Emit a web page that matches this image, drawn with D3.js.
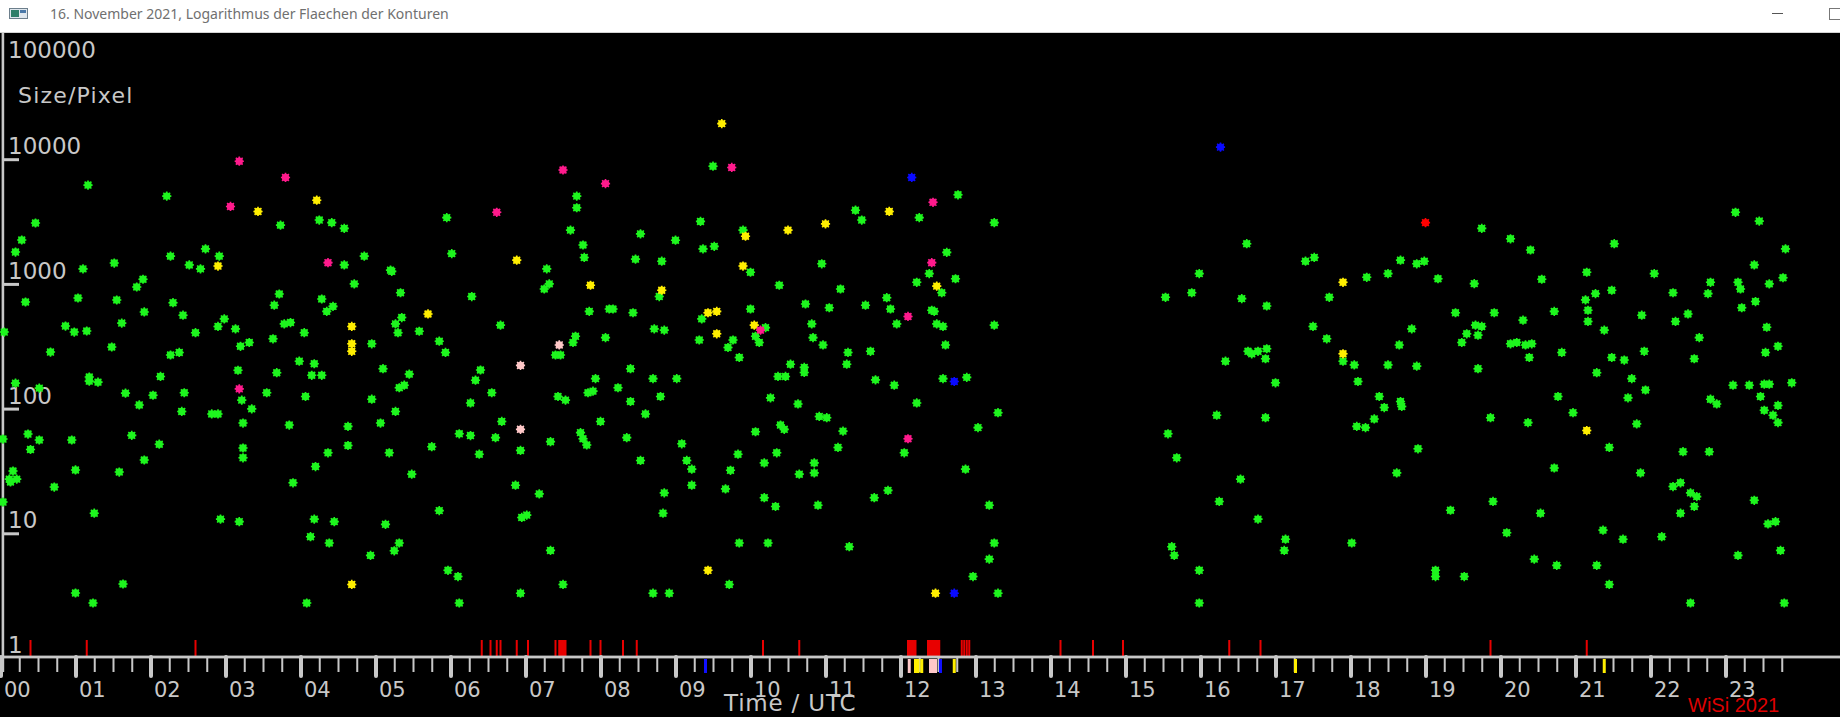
<!DOCTYPE html>
<html>
<head>
<meta charset="utf-8">
<script src="https://cdn.jsdelivr.net/npm/d3@7"></script>
<style>
  html, body { margin: 0; padding: 0; background: #000; overflow: hidden; }
  svg { display: block; }
</style>
</head>
<body>
<script>
// time of detection in minutes after 00:00 UTC, contour area in pixels
var greenPts = [
	[70,6200],[28,3080],[17,2250],[12,1800],[91,1470],[66,1320],[114,1090],[109,944],[20,716],[62,771],[93,743],[115,596],
	[3,411],[52,459],[59,411],[69,419],[97,485],[89,312],[40,284],[71,179],[71,166],[78,163],[12,160],[31,146],[100,133],
	[111,107],[2,57],[22,62.5],[31,56],[24,47],[57,56],[105,61],[115,38.7],[10,31.6],[7,27.2],[8,25.8],[13,27.2],[60,32.2],
	[95,31],[43,23.5],[2,17.8],[75,14.5],[98,3.92],[60,3.32],[74,2.76],
	[133,5060],[224,2960],[255,3250],[265,3100],[275,2790],[136,1670],[164,1910],[175,1670],[151,1420],[160,1320],[275,1420],
	[291,1670],[283,1000],[312,1290],[313,1260],[320,849],[357,3400],[361,1750],[377,792],[461,5060],[461,4080],[456,2700],
	[466,2050],[467,1630],[437,1320],[439,1000],[435,910],[471,602],[487,629],[138,707],[146,561],[156,406],[179,524],[174,456],
	[188,436],[192,316],[199,339],[136,269],[143,282],[128,181],[122,128],[147,134],[145,94.9],[169,90.6],[174,90.6],[127,51.8],
	[190,203],[193,117],[201,99.5],[194,76.6],[194,48.3],[194,40.3],[176,13],[191,12.4],[223,830],[219,675],[227,478],[232,490],
	[218,363],[243,406],[257,757],[266,660],[261,602],[297,331],[239,240],[251,229],[249,185],[257,185],[221,194],[213,134],
	[244,125],[231,73.8],[278,72],[278,50.6],[262,44.2],[252,34.3],[234,25.4],[251,13],[267,12.4],[248,9.39],[263,8.36],[245,2.76],
	[316,478],[321,537],[318,406],[335,417],[351,347],[356,282],[306,209],[327,189],[319,147],[323,154],[297,119],[316,94.9],
	[304,76.6],[311,44.2],[345,49.5],[329,29.8],[308,11.8],[319,8.36],[315,7.24],[296,6.65],[351,15.2],[358,5.05],[366,4.5],
	[367,2.76],[400,467],[384,204],[380,169],[393,134],[376,111],[401,78.9],[367,62.8],[376,60.8],[396,58.5],[383,43.1],[416,46.2],
	[412,24.3],[431,20.7],[417,13.4],[421,14],[440,7.29],[416,3.31],[450,3.89],[444,269],[448,269],[460,380],[458,339],[484,371],
	[476,174],[470,134],[474,138],[446,125],[452,117],[480,78.9],[440,54.3],[464,64.2],[466,57.3],[469,51.1],
	[570,8790],[766,5180],[735,3400],[684,3900],[689,3250],[795,3100],[560,3170],[512,2520],[540,2240],[594,2700],[562,1910],
	[571,2000],[508,1580],[529,1520],[657,1450],[757,1790],[600,1240],[623,975],[672,910],[743,1210],[733,1030],[753,849],
	[764,1100],[527,792],[490,629],[506,587],[523,436],[531,426],[561,524],[559,355],[586,355],[582,309],[591,257],[600,629],
	[612,446],[604,380],[607,339],[644,690],[663,644],[649,478],[650,371],[658,324],[692,675],[709,775],[712,629],[717,478],
	[745,615],[747,602],[749,478],[754,456],[756,324],[795,467],[678,282],[677,227],[696,288],[632,227],[643,214],[643,195],
	[622,181],[628,181],[504,209],[522,174],[541,174],[494,147],[504,114],[528,125],[516,90.6],[700,170],[715,154],[754,174],
	[773,178],[616,122],[638,109],[655,86.5],[661,84.5],[624,73.8],[627,68.2],[604,65.2],[674,66],[733,111],[798,92.7],[782,70.4],
	[723,44.2],[670,48.8],[501,58.5],[545,52.2],[512,38.4],[549,38.4],[553,32.7],[553,24.3],[590,43.1],[584,32],[621,44.2],
	[611,36.7],[651,36.7],[651,30.5],[639,29.8],[580,22.7],[531,21.1],[530,14.5],[611,19.3],[620,16.4],[654,16.8],[699,19.3],
	[710,22.1],[772,32.7],[791,16.8],[591,8.36],[614,8.36],[679,7.81],[795,8.36],[791,6.21],[778,4.5],[583,3.89],[522,3.31],
	[535,3.31],[798,3.31],
	[1185,2790],[997,2100],[959,1210],[932,781],[953,849],[993,762],[1013,665],[1044,1520],[1051,1630],[1063,781],[1093,1130],
	[1110,1210],[1120,1550],[1133,1450],[1139,1520],[1150,1100],[1179,1005],[1195,587],[1164,587],[1050,456],[1061,363],
	[1129,436],[1119,324],[1180,467],[1185,456],[1173,398],[1182,388],[1169,339],[998,288],[1001,275],[1006,288],[1013,302],
	[1012,251],[980,240],[1074,240],[1083,224],[1110,224],[1133,219],[1182,209],[1020,161],[1086,165],[1103,125],[1107,102],
	[1120,114],[1121,104],[1099,82.6],[1085,72],[1092,70.4],[973,88.5],[1012,84.5],[1192,84.5],[934,62.8],[941,40.3],[1134,47.6],
	[1117,30.5],[992,27.2],[975,18],[1006,13],[1160,15.3],[1194,18],[1028,8.97],[1027,7.29],[1081,8.36],[937,7.81],[939,6.65],
	[959,5.05],[959,2.76],[1148,5.05],[1148,4.5],[1171,4.5],
	[1208,2300],[1224,1870],[1291,2100],[1388,3750],[1407,3190],[1428,1910],[1233,1090],[1269,1240],[1323,1210],[1403,1420],
	[1426,1120],[1368,1030],[1390,1030],[1392,910],[1415,1000],[1338,849],[1366,836],[1276,836],[1289,889],[1268,745],[1270,615],
	[1270,500],[1218,512],[1243,602],[1313,561],[1340,500],[1350,574],[1393,644],[1404,722],[1413,449],[1283,426],[1359,371],
	[1208,331],[1213,339],[1220,324],[1225,331],[1223,257],[1249,282],[1289,257],[1299,245],[1315,288],[1355,251],[1412,282],
	[1422,316],[1277,194],[1305,174],[1316,141],[1302,122],[1246,125],[1386,154],[1399,154],[1411,157],[1415,157],[1433,161],
	[1368,119],[1373,109],[1408,125],[1422,106],[1411,97],[1418,88.5],[1422,77.2],[1222,77.2],[1258,92.7],[1309,75.4],[1287,48.8],
	[1346,45.1],[1367,45.1],[1243,33.4],[1312,30.5],[1338,23.7],[1344,25.4],[1352,21.1],[1357,19.7],[1355,16.4],[1344,14.5],
	[1403,18.4],[1232,14.5],[1205,10.1],[1282,10.6],[1298,8.97],[1329,9.39],[1414,11.9],[1420,12.4],[1424,7.29],[1390,6.65],
	[1227,6.21],[1245,5.53],[1277,5.53],[1287,3.89],[1352,2.76],[1427,2.76]
];
var yellowPts = [
	[206,3810],[253,4690],[174,1390],[413,1550],[472,975],[281,456],[281,331],[281,288],[281,3.89],[342,574],
	[577,19300],[711,3810],[660,3030],[630,2700],[596,2410],[594,1390],[749,960],[529,889],[566,587],[573,602],[573,398],
	[603,467],[566,5.05],[748,3.31],[1074,1030],[1074,275],[1269,66.7]
];
var magentaPts = [
	[191,9640],[228,7140],[184,4180],[262,1480],[397,3750],[450,8190],[484,6370],[191,144],
	[585,8590],[746,4510],[745,1480],[608,426],[726,548],[726,57.3]
];
var rosePts = [[447,324],[416,222],[416,68.2]];
var bluePts = [[729,7140],[763,165],[763,3.31],[976,12500]];
var redPts = [[1140,3100]];

// short marks on the time axis (minutes after 00:00 UTC)
var redEvents = [24,69,156,385,392,397,400,413,422,444,447,448,449,450,451,452,472,480,498,509,610,639,
	726,727,728,729,730,731,732,742,743,744,745,746,747,748,749,750,751,769,771,773,775,848,874,898,983,1008,1192,1269];
var yellowMarks = [732,734,737,763,1036,1283];
var roseMarks = [727,744,746,748];
var blueMarks = [564,752];

var hourLabels = ['00','01','02','03','04','05','06','07','08','09','10','11',
	'12','13','14','15','16','17','18','19','20','21','22','23'];
var yTickValues = [1,10,100,1000,10000,100000];
var yTickLabels = ['1','10','100','1000','10000','100000'];

drawChart();

function drawChart() {
	var W = 1840, H = 717;
	var grey = '#c8c8c8';
	var svg = d3.select('body').append('svg').attr('width', W).attr('height', H);

	svg.append('rect').attr('width', W).attr('height', H).attr('fill', '#000');

	//window title bar
	var bar = svg.append('g');
	bar.append('rect').attr('width', W).attr('height', 32).attr('fill', '#fff');
	bar.append('rect').attr('y', 32).attr('width', W).attr('height', 1).attr('fill', '#d4d4d4');
	bar.append('rect').attr('x', 9.5).attr('y', 8.5).attr('width', 18).attr('height', 10)
		.attr('fill', '#dfe7ee').attr('stroke', '#6d7f8c');
	bar.append('rect').attr('x', 11).attr('y', 10).attr('width', 8).attr('height', 7).attr('fill', '#2f7f6a');
	bar.append('rect').attr('x', 20).attr('y', 10).attr('width', 6).attr('height', 3).attr('fill', '#4a78a8');
	bar.append('text').attr('x', 50).attr('y', 19)
		.style('font-family', '"Noto Sans", "Open Sans", sans-serif').style('font-size', '14px')
		.attr('fill', '#707070')
		.text('16. November 2021, Logarithmus der Flaechen der Konturen');
	bar.append('rect').attr('x', 1772).attr('y', 13).attr('width', 11).attr('height', 1).attr('fill', '#555');
	bar.append('rect').attr('x', 1829.5).attr('y', 8.5).attr('width', 12).attr('height', 11)
		.attr('fill', 'none').attr('stroke', '#777');

	//scales: minutes of the day / contour size
	var x = d3.scaleLinear().domain([0, 1440]).range([0.5, 1800.5]);
	var y = d3.scaleLog().domain([1, 100000]).range([658, 34.5]);

	//y axis
	svg.append('rect').attr('x', 1.6).attr('y', 33).attr('width', 2.6).attr('height', 639).attr('fill', grey);
	var yAxis = svg.append('g').attr('transform', 'translate(3,0)')
		.call(d3.axisRight(y).tickValues([10, 100, 1000, 10000]).tickSize(16).tickFormat(''));
	yAxis.select('.domain').remove();
	yAxis.selectAll('line').attr('stroke', grey).attr('stroke-width', 3);

	svg.append('g').selectAll('text')
		.data(yTickValues)
		.join('text')
			.attr('x', 8)
			.attr('y', d => d === 100000 ? 58 : y(d) - 5)
			.style('font-family', '"DejaVu Sans", sans-serif').style('font-size', '23px')
			.attr('fill', grey)
			.text((d, i) => yTickLabels[i]);

	svg.append('text').attr('x', 18).attr('y', 103)
		.style('font-family', '"DejaVu Sans", sans-serif').style('font-size', '22px')
		.style('letter-spacing', '1.2px')
		.attr('fill', grey).text('Size/Pixel');

	//event marks above the time axis
	svg.append('g').selectAll('rect')
		.data(redEvents)
		.join('rect')
			.attr('x', d => x(d) - 1)
			.attr('y', 640)
			.attr('width', 2)
			.attr('height', 16)
			.attr('fill', '#e80000');

	//time axis
	svg.append('rect').attr('x', 0).attr('y', 655.6).attr('width', W).attr('height', 2.8).attr('fill', grey);

	var quarters = d3.range(0, 1440, 15).filter(m => m % 60 !== 0);
	var minorAxis = svg.append('g').attr('transform', 'translate(0,657)')
		.call(d3.axisBottom(x).tickValues(quarters).tickSize(15).tickFormat(''));
	minorAxis.select('.domain').remove();
	minorAxis.selectAll('line').attr('stroke', grey).attr('stroke-width', 2);

	var hourAxis = svg.append('g').attr('transform', 'translate(0,657)')
		.call(d3.axisBottom(x).tickValues(d3.range(0, 1440, 60)).tickSize(19)
			.tickFormat((d, i) => hourLabels[i]));
	hourAxis.select('.domain').remove();
	hourAxis.selectAll('line').attr('stroke', grey).attr('stroke-width', 4).attr('stroke-linecap', 'round');
	hourAxis.selectAll('text')
		.attr('x', 3).attr('y', 40).attr('dy', null)
		.attr('text-anchor', 'start')
		.attr('fill', grey)
		.style('font-family', '"DejaVu Sans", sans-serif').style('font-size', '21px');

	//coloured marks below the time axis
	var lowMarks = [].concat(
		yellowMarks.map(m => ({m: m, c: '#ffee00'})),
		roseMarks.map(m => ({m: m, c: '#ffc8c8'})),
		blueMarks.map(m => ({m: m, c: '#1010ff'}))
	);
	svg.append('g').selectAll('rect')
		.data(lowMarks)
		.join('rect')
			.attr('x', d => x(d.m) - 1.5)
			.attr('y', 659)
			.attr('width', 3)
			.attr('height', 14)
			.attr('fill', d => d.c);

	svg.append('text').attr('x', 724).attr('y', 711)
		.style('font-family', '"DejaVu Sans", sans-serif').style('font-size', '23px')
		.style('letter-spacing', '0.8px')
		.attr('fill', grey).text('Time / UTC');
	svg.append('text').attr('x', 1688).attr('y', 712)
		.style('font-family', '"Liberation Sans", sans-serif').style('font-size', '20px')
		.attr('fill', '#dd0000').text('WiSi 2021');

	//the contours
	var series = [
		{pts: greenPts, color: '#1ef51e'},
		{pts: yellowPts, color: '#ffee00'},
		{pts: magentaPts, color: '#ff1a8c'},
		{pts: rosePts, color: '#ffc8c8'},
		{pts: bluePts, color: '#0a0aff'},
		{pts: redPts, color: '#ff0000'}
	];
	var star = 'M-4.6,0H4.6M0,-4.6V4.6M-3.4,-3.4L3.4,3.4M-3.4,3.4L3.4,-3.4';
	var plot = svg.append('g');
	series.forEach(function(s) {
		var g = plot.append('g').selectAll('g')
			.data(s.pts)
			.join('g')
				.attr('transform', d => 'translate(' + x(d[0]) + ',' + y(d[1]) + ')');
		g.append('circle').attr('r', 3.7).attr('fill', s.color);
		g.append('path').attr('d', star).attr('stroke', s.color).attr('stroke-width', 1.6);
	});
}
</script>
</body>
</html>
